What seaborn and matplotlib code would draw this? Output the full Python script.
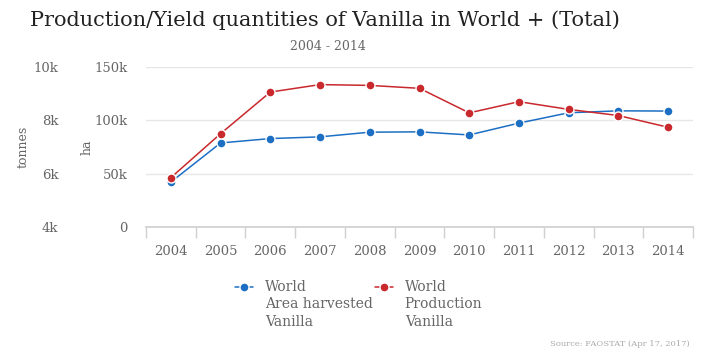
import matplotlib
matplotlib.use('Agg')
import matplotlib.pyplot as plt
import seaborn as sns
import pandas as pd
import numpy as np
from matplotlib.lines import Line2D
from matplotlib.legend_handler import HandlerLine2D

# values
years = [2004, 2005, 2006, 2007, 2008, 2009, 2010, 2011, 2012, 2013, 2014]
area_harvested = [42100, 78800, 82900, 84500, 88900, 89200, 86300, 97400, 107100, 108900, 108700]  # ha
production = [5850, 7500, 9060, 9340, 9310, 9200, 8280, 8700, 8410, 8180, 7740]  # tonnes

ha_ticks = [0, 50000, 100000, 150000]
ha_labels = ['0', '50k', '100k', '150k']
t_ticks = [4000, 6000, 8000, 10000]
t_labels = ['4k', '6k', '8k', '10k']

df = pd.DataFrame({'Year': years, 'Area harvested': area_harvested, 'Production': production})

sns.set_theme(style='white')
plt.rcParams['font.family'] = ['DejaVu Serif']

blue = '#1d6fc4'
red = '#c9282d'
grey = '#666666'


class FirstLineHandler(HandlerLine2D):
    # put the legend marker next to the first line of a multi-line label
    def __init__(self, shift, **kw):
        super().__init__(**kw)
        self.shift = shift

    def create_artists(self, legend, orig_handle, xdescent, ydescent, width, height, fontsize, trans):
        artists = super().create_artists(legend, orig_handle, xdescent, ydescent, width, height,
                                         fontsize, trans)
        for a in artists:
            a.set_ydata(np.asarray(a.get_ydata()) + self.shift)
        return artists


fig = plt.figure(figsize=(7.04, 3.52), dpi=100)
ax = fig.add_axes([146 / 704, 1 - 227 / 352, 547 / 704, 160 / 352])
ax2 = ax.twinx()

line_kw = dict(marker='o', markersize=6.5, markeredgecolor='white', markeredgewidth=1, linewidth=1.1)
sns.lineplot(data=df, x='Year', y='Area harvested', ax=ax, color=blue, **line_kw)
sns.lineplot(data=df, x='Year', y='Production', ax=ax2, color=red, **line_kw)

ax.set_ylim(0, 150000)
ax2.set_ylim(4000, 10000)
ax.set_yticks(ha_ticks)
ax.set_yticklabels(ha_labels)
ax2.set_yticks(t_ticks)
ax2.set_yticklabels(t_labels)
ax2.yaxis.tick_left()
ax2.yaxis.set_label_position('left')
ax2.spines['left'].set_position(('outward', 50))

for a in (ax, ax2):
    for s in a.spines.values():
        s.set_visible(False)
ax.spines['bottom'].set_visible(True)
ax.spines['bottom'].set_color('#d0d0d0')

ax.grid(axis='y', color='#e6e6e6', linewidth=1)
ax.set_axisbelow(True)

ax.set_xlim(2003.5, 2014.5)
ax.set_xticks(years)
ax.set_xticks(np.arange(2003.5, 2015, 1), minor=True)
ax.tick_params(axis='x', which='major', length=0, pad=13, labelsize=9.5, labelcolor=grey)
ax.tick_params(axis='x', which='minor', length=8, color='#d0d0d0', width=1, direction='out', bottom=True)
ax.tick_params(axis='y', length=0, pad=13, labelsize=9.5, labelcolor=grey)
ax2.tick_params(axis='y', length=0, pad=13, labelsize=9.5, labelcolor=grey)

ax.set_xlabel('')
ax.set_ylabel('ha', fontsize=9, color=grey)
ax2.set_ylabel('tonnes', fontsize=9, color=grey)
ax.yaxis.label.set_va('center')
ax2.yaxis.label.set_va('center')
ax.yaxis.set_label_coords(-0.108, 0.5)
ax2.yaxis.set_label_coords(-0.225, 0.5)

fig.text(325 / 704, 1 - 20 / 352, 'Production/Yield quantities of Vanilla in World + (Total)',
         ha='center', va='center', fontsize=15, color='#222222')
fig.text(328 / 704, 1 - 46 / 352, '2004 - 2014', ha='center', va='center', fontsize=9, color=grey)

handles = [Line2D([], [], color=blue, **line_kw), Line2D([], [], color=red, **line_kw)]
labels = ['World\nArea harvested\nVanilla', 'World\nProduction\nVanilla']
leg = fig.legend(handles, labels, loc='upper left', bbox_to_anchor=(235 / 704, 1 - 280 / 352), ncol=2,
                 frameon=False, fontsize=10, handlelength=1.3, handletextpad=0.85, columnspacing=0.15,
                 borderpad=0, borderaxespad=0, labelcolor=grey,
                 handler_map={Line2D: FirstLineHandler(13)})
for t in leg.get_texts():
    t.set_linespacing(1.3)

fig.text(690 / 704, 1 - 344 / 352, 'Source: FAOSTAT (Apr 17, 2017)', ha='right', va='center',
         fontsize=6, color='#aaaaaa')

fig.savefig('out.png', dpi=100)
